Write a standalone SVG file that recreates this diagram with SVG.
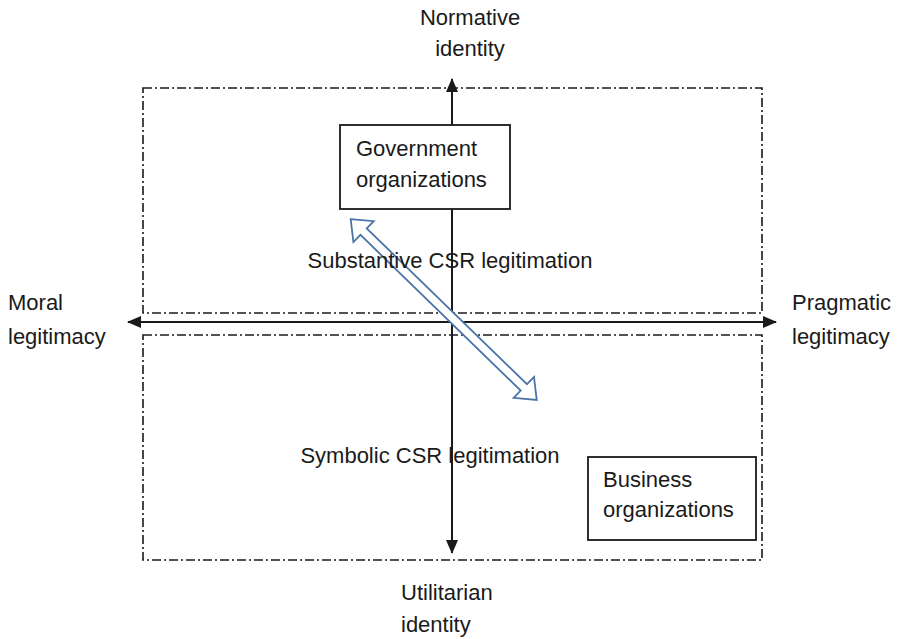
<svg xmlns="http://www.w3.org/2000/svg" width="899" height="639" viewBox="0 0 899 639">
  <style>
    .lbl { font-family: "Liberation Sans", Arial, sans-serif; font-size: 22px; fill: #1a1a1a; }
    .zone { fill: none; stroke: #1a1a1a; stroke-width: 1.6; stroke-dasharray: 9 3 2 3; }
    .axis { fill: none; stroke: #1a1a1a; stroke-width: 2; }
    .box { fill: #ffffff; stroke: #1a1a1a; stroke-width: 1.8; }
    .dbl { fill: #ffffff; stroke: #4a74a8; stroke-width: 1.8; stroke-linejoin: miter; }
  </style>
  <defs>
    <marker id="tri" viewBox="0 0 14 12" refX="13" refY="6" markerWidth="14" markerHeight="12" markerUnits="userSpaceOnUse" orient="auto-start-reverse">
      <path d="M0,0 L14,6 L0,12 Z" fill="#1a1a1a"/>
    </marker>
  </defs>

  <rect width="899" height="639" fill="#ffffff"/>

  <!-- dash-dot zones -->
  <g id="zones">
    <rect class="zone" x="143" y="88" width="619" height="225"/>
    <rect class="zone" x="143" y="335" width="619" height="225"/>
  </g>

  <!-- axes -->
  <g id="connectors">
    <line class="axis" x1="452" y1="553" x2="452" y2="79" marker-start="url(#tri)" marker-end="url(#tri)"/>
    <line class="axis" x1="128" y1="322" x2="776" y2="322" marker-start="url(#tri)" marker-end="url(#tri)"/>
    <!-- hollow double-headed block arrow -->
    <path class="dbl" transform="translate(443.7 309.5) rotate(44.2)"
          d="M-129.75,0 L-111.75,-14.6 L-111.75,-4.5 L111.75,-4.5 L111.75,-14.6 L129.75,0 L111.75,14.6 L111.75,4.5 L-111.75,4.5 L-111.75,14.6 Z"/>
  </g>

  <g id="government">
    <rect class="box" x="340" y="125" width="170" height="84"/>
    <text class="lbl" x="356" y="156">Government</text>
    <text class="lbl" x="356" y="187">organizations</text>
  </g>

  <g id="business">
    <rect class="box" x="588" y="457" width="168" height="83"/>
    <text class="lbl" x="603" y="487">Business</text>
    <text class="lbl" x="603" y="517">organizations</text>
  </g>

  <g id="labels">
    <text class="lbl" x="470" y="25" text-anchor="middle">Normative</text>
    <text class="lbl" x="470" y="56" text-anchor="middle">identity</text>
    <text class="lbl" x="401" y="600">Utilitarian</text>
    <text class="lbl" x="401" y="632">identity</text>
    <text class="lbl" x="8" y="310">Moral</text>
    <text class="lbl" x="8" y="344">legitimacy</text>
    <text class="lbl" x="792" y="310">Pragmatic</text>
    <text class="lbl" x="792" y="344">legitimacy</text>
    <text class="lbl" x="450" y="268" text-anchor="middle">Substantive CSR legitimation</text>
    <text class="lbl" x="430" y="463" text-anchor="middle">Symbolic CSR legitimation</text>
  </g>
</svg>
